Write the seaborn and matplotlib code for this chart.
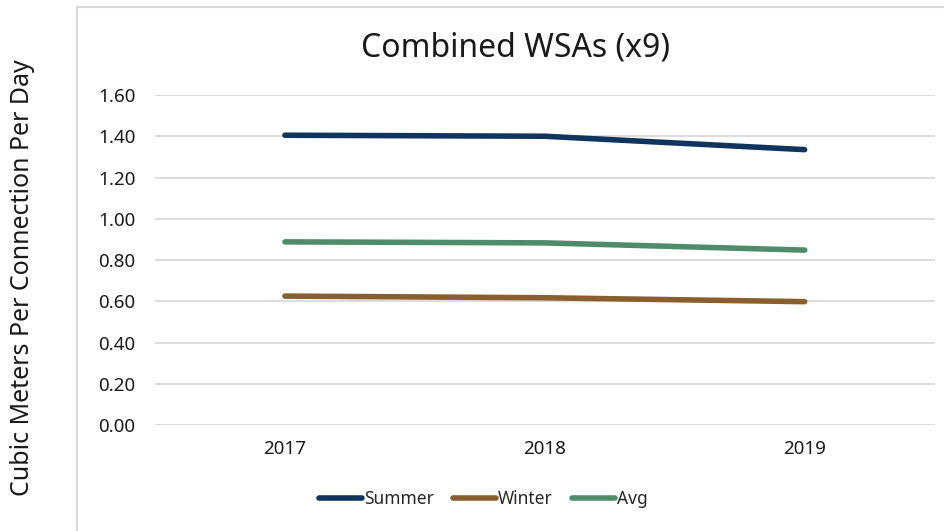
import pandas as pd
import matplotlib.pyplot as plt
import seaborn as sns
from matplotlib.patches import Rectangle

# Chart data
years = ["2017", "2018", "2019"]
summer = [1.405, 1.400, 1.335]
winter = [0.625, 0.617, 0.598]
avg = [0.888, 0.883, 0.848]

series_names = ["Summer", "Winter", "Avg"]
colors = ["#0f355f", "#8b5e2e", "#4f8c6c"]

df = pd.DataFrame({"year": years * 3,
                   "value": summer + winter + avg,
                   "series": [s for s in series_names for _ in years]})

sns.set_style("white")
plt.rcParams['font.family'] = ['Noto Sans', 'DejaVu Sans']

fig = plt.figure(figsize=(9.45, 5.31), dpi=100)
ax = fig.add_axes([0.164, 0.1996, 0.825, 0.6215])

sns.lineplot(data=df, x="year", y="value", hue="series", palette=colors,
             linewidth=4, ax=ax, sort=False, solid_capstyle="round")

ax.set_ylim(0, 1.6)
ax.set_xlim(-0.5, 2.5)
ax.set_yticks([0, 0.2, 0.4, 0.6, 0.8, 1.0, 1.2, 1.4, 1.6])
ax.set_yticklabels([f"{v:.2f}" for v in ax.get_yticks()])
ax.grid(axis="y", color="#d9d9d9", linewidth=1.3)
ax.set_axisbelow(True)
for s in ax.spines.values():
    s.set_visible(False)
ax.tick_params(axis="both", length=0, labelsize=13.5, colors="#1a1a1a")
ax.tick_params(axis="x", pad=11)
ax.tick_params(axis="y", pad=14)
ax.set_xlabel("")
ax.set_ylabel("")

fig.text(0.546, 0.91, "Combined WSAs (x9)", ha="center", va="center", fontsize=23, color="#1a1a1a")
fig.text(0.024, 0.478, "Cubic Meters Per Connection Per Day", ha="center", va="center",
         rotation=90, fontsize=18, color="#1a1a1a")

handles, labels = ax.get_legend_handles_labels()
ax.legend(handles, labels, loc="center", bbox_to_anchor=(0.421, -0.225), ncol=3, frameon=False,
          fontsize=12.5, handlelength=2.5, handletextpad=0.1, columnspacing=1.1)

fig.patches.append(Rectangle((0.081, -0.01), 1.0, 0.997, transform=fig.transFigure,
                             fill=False, edgecolor="#d9d9d9", linewidth=1.5))

fig.savefig("out.png", dpi=100)
